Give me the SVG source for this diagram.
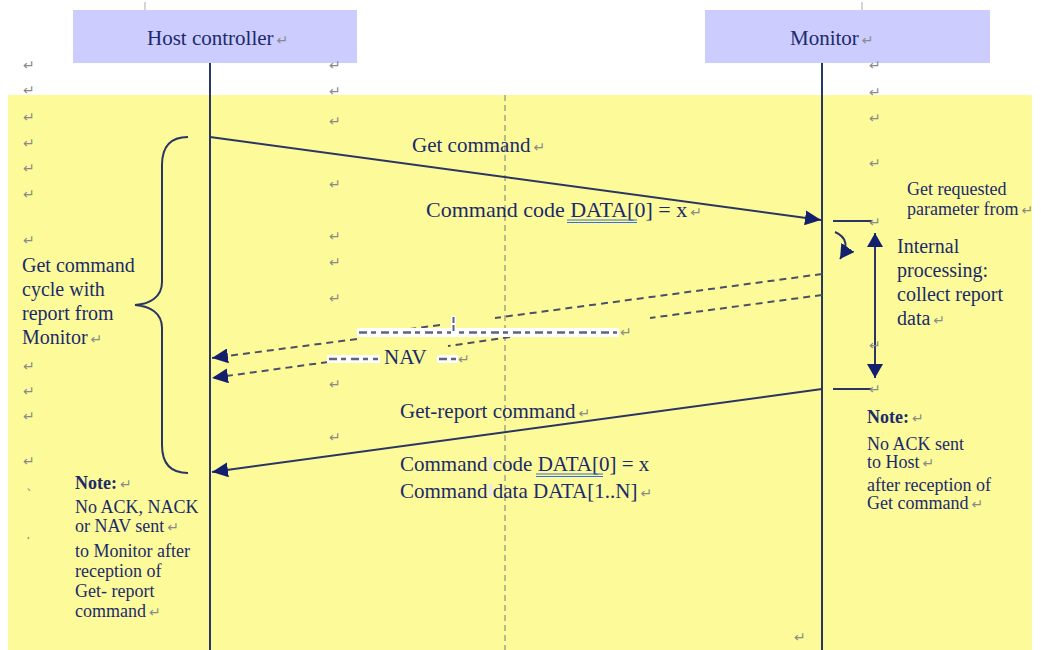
<svg xmlns="http://www.w3.org/2000/svg" width="1041" height="650" viewBox="0 0 1041 650">
<defs>
<style>
.t{font-family:"Liberation Serif","Times New Roman",serif;fill:#1B2A6B;}
.b{font-size:21px;}
.s{font-size:18px;}
.pm{font-family:"DejaVu Sans",sans-serif;font-size:14px;fill:#8a8a8a;font-weight:normal;}
.life{stroke:#2B3563;stroke-width:2;fill:none;}
.sol{stroke:#2B3563;stroke-width:2;fill:none;}
.dsh{stroke:#4B5068;stroke-width:2;stroke-dasharray:7 5;fill:none;}
.band{fill:#ffffff;}
.bd{stroke:#60647A;stroke-width:2.5;stroke-dasharray:8 4 5 5;}
.box{fill:#CCCCFF;}
</style>
<marker id="ah" markerUnits="userSpaceOnUse" markerWidth="17" markerHeight="15" refX="16" refY="7.5" orient="auto-start-reverse">
<path d="M0,0 L16,7.5 L0,15 z" fill="#14206E"/>
</marker>
<marker id="ah2" markerUnits="userSpaceOnUse" markerWidth="15" markerHeight="16" refX="14" refY="8" orient="auto-start-reverse">
<path d="M0,0 L14,8 L0,16 z" fill="#14206E"/>
</marker>
</defs>
<rect x="0" y="0" width="1041" height="650" fill="#ffffff"/>
<rect x="8" y="95" width="1024" height="555" fill="#FDFB99"/>
<line x1="145" y1="2" x2="145" y2="10" stroke="#aaaaaa" stroke-width="1"/>
<line x1="862" y1="2" x2="862" y2="10" stroke="#aaaaaa" stroke-width="1"/>
<line x1="505" y1="95" x2="505" y2="650" stroke="#777777" stroke-width="1" stroke-dasharray="6 4"/>

<g id="host">
<rect class="box" x="73" y="10" width="284" height="53"/>
<text class="t b" x="147" y="45">Host controller<tspan class="pm" dx="3">↵</tspan></text>
</g>
<g id="monitor">
<rect class="box" x="705" y="10" width="285" height="53"/>
<text class="t b" x="790" y="45">Monitor<tspan class="pm" dx="3">↵</tspan></text>
</g>

<g id="connectors">
<line class="life" x1="210" y1="63" x2="210" y2="650"/>
<line class="life" x1="822" y1="63" x2="822" y2="650"/>
<line class="sol" x1="210" y1="137" x2="821" y2="220" marker-end="url(#ah)"/>
<line class="sol" x1="833" y1="221" x2="872" y2="221"/>
<line class="sol" x1="833" y1="389" x2="872" y2="389"/>
<line class="sol" x1="875" y1="233" x2="875" y2="378" marker-start="url(#ah2)" marker-end="url(#ah2)"/>
<path class="sol" d="M835,232 Q853,240 840,259" marker-end="url(#ah2)"/>
<line class="dsh" x1="822" y1="274" x2="495" y2="318"/>
<line class="dsh" x1="440" y1="325" x2="410" y2="329"/>
<line class="dsh" x1="357" y1="339" x2="212" y2="358" marker-end="url(#ah)"/>
<line class="dsh" x1="822" y1="295" x2="650" y2="318"/>
<line class="dsh" x1="510" y1="337" x2="448" y2="346"/>
<line class="dsh" x1="328" y1="362" x2="212" y2="378" marker-end="url(#ah)"/>
<line class="sol" x1="822" y1="389" x2="212" y2="472" marker-end="url(#ah)"/>
<path class="sol" d="M188,137 C170,137 162,147 162,165 L162,282 C162,297 150,304 135,305 C150,306 162,313 162,328 L162,445 C162,463 170,473 188,473"/>
</g>

<g id="nav-bands">
<rect class="band" x="357" y="328" width="262" height="9"/>
<line class="bd" x1="359" y1="332.5" x2="617" y2="332.5"/>
<rect class="band" x="451" y="316" width="5" height="18"/>
<line x1="453.5" y1="317" x2="453.5" y2="333" stroke="#60647A" stroke-width="2" stroke-dasharray="6 2"/>
<text class="pm" x="620" y="337">↵</text>
<rect class="band" x="327" y="355" width="53" height="8"/>
<line class="bd" x1="329" y1="359" x2="378" y2="359"/>
<rect class="band" x="437" y="355" width="21" height="8"/>
<line class="bd" x1="439" y1="359" x2="456" y2="359"/>
<text class="t b" x="384" y="364">NAV</text>
<text class="pm" x="458" y="364">↵</text>
</g>

<g id="labels">
<text class="t b" x="412" y="152">Get command<tspan class="pm" dx="3">↵</tspan></text>
<text class="t" font-size="22" x="426" y="217">Command code DATA[0] = x<tspan class="pm" dx="3">↵</tspan></text>
<line x1="567" y1="220" x2="637" y2="220" stroke="#3A6FD8" stroke-width="1"/>
<line x1="567" y1="222.5" x2="637" y2="222.5" stroke="#3A6FD8" stroke-width="1"/>
<text class="t b" x="400" y="418">Get-report command<tspan class="pm" dx="3">↵</tspan></text>
<text class="t b" x="400" y="471">Command code DATA[0] = x</text>
<line x1="536" y1="474" x2="603" y2="474" stroke="#3A6FD8" stroke-width="1"/>
<line x1="536" y1="476.5" x2="603" y2="476.5" stroke="#3A6FD8" stroke-width="1"/>
<text class="t b" x="400" y="498">Command data DATA[1..N]<tspan class="pm" dx="3">↵</tspan></text>
<rect x="489" y="457" width="3" height="12" fill="#E6E8F4"/>
<rect x="489" y="484" width="3" height="12" fill="#E6E8F4"/>
</g>

<g id="cycle-label">
<text class="t" font-size="20" x="22" y="272">Get command</text>
<text class="t" font-size="20" x="22" y="296">cycle with</text>
<text class="t" font-size="20" x="22" y="320">report from</text>
<text class="t" font-size="20" x="22" y="344">Monitor<tspan class="pm" dx="3">↵</tspan></text>
</g>

<g id="monitor-notes">
<text class="t s" x="907" y="195">Get requested</text>
<text class="t s" x="907" y="215">parameter from<tspan class="pm" dx="3">↵</tspan></text>
<text class="t" font-size="20" x="897" y="253">Internal</text>
<text class="t" font-size="20" x="897" y="277">processing:</text>
<text class="t" font-size="20" x="897" y="301">collect report</text>
<text class="t" font-size="20" x="897" y="325">data<tspan class="pm" dx="3">↵</tspan></text>
</g>

<g id="note-left">
<text class="t s" x="75" y="489" font-weight="bold">Note:<tspan class="pm" dx="3">↵</tspan></text>
<text class="t s" x="75" y="513">No ACK, NACK</text>
<text class="t s" x="75" y="532">or NAV sent<tspan class="pm" dx="3">↵</tspan></text>
<text class="t s" x="75" y="557">to Monitor after</text>
<text class="t s" x="75" y="577">reception of</text>
<text class="t s" x="75" y="597">Get- report</text>
<text class="t s" x="75" y="617">command<tspan class="pm" dx="3">↵</tspan></text>
</g>

<g id="note-right">
<text class="t s" x="867" y="423" font-weight="bold">Note:<tspan class="pm" dx="3">↵</tspan></text>
<text class="t s" x="867" y="450">No ACK sent</text>
<text class="t s" x="867" y="468">to Host<tspan class="pm" dx="3">↵</tspan></text>
<text class="t s" x="867" y="491">after reception of</text>
<text class="t s" x="867" y="509">Get command<tspan class="pm" dx="3">↵</tspan></text>
</g>

<g id="paragraph-marks">
<text class="pm" x="23" y="70">↵</text>
<text class="pm" x="23" y="95">↵</text>
<text class="pm" x="23" y="122">↵</text>
<text class="pm" x="23" y="148">↵</text>
<text class="pm" x="23" y="173">↵</text>
<text class="pm" x="23" y="199">↵</text>
<text class="pm" x="23" y="245">↵</text>
<text class="pm" x="23" y="371">↵</text>
<text class="pm" x="23" y="396">↵</text>
<text class="pm" x="23" y="421">↵</text>
<text class="pm" x="23" y="466">↵</text>
<text class="pm" x="26" y="500">`</text>
<text class="pm" x="26" y="539">.</text>
<text class="pm" x="329" y="70">↵</text>
<text class="pm" x="329" y="96">↵</text>
<text class="pm" x="329" y="126">↵</text>
<text class="pm" x="329" y="189">↵</text>
<text class="pm" x="329" y="241">↵</text>
<text class="pm" x="329" y="267">↵</text>
<text class="pm" x="329" y="303">↵</text>
<text class="pm" x="329" y="389">↵</text>
<text class="pm" x="329" y="442">↵</text>
<text class="pm" x="869" y="70">↵</text>
<text class="pm" x="869" y="97">↵</text>
<text class="pm" x="869" y="123">↵</text>
<text class="pm" x="869" y="168">↵</text>
<text class="pm" x="869" y="227">↵</text>
<text class="pm" x="869" y="350">↵</text>
<text class="pm" x="869" y="394">↵</text>
<text class="pm" x="794" y="642">↵</text>
</g>
</svg>
